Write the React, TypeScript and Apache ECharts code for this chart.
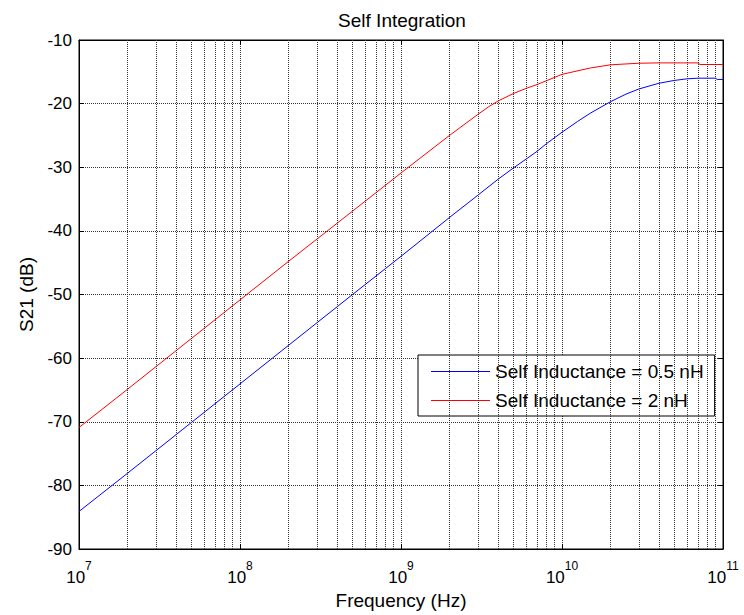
import React, { useEffect, useRef } from 'react';
import * as echarts from 'echarts';

// Self Inductance = 0.5 nH (blue)
const blueFreq = [1e7, 2e7, 5e7, 1e8, 2e8, 5e8, 1e9, 2e9, 3e9, 4e9, 5e9, 6e9, 7e9, 8e9, 1e10, 1.25e10, 1.5e10, 2e10, 2.5e10, 3e10, 4e10, 5e10, 6e10, 7e10, 9e10, 9.2e10, 1e11];
const blueS21 = [-84.1, -78.1, -70.1, -64.05, -58.0, -50.0, -44.0, -37.9, -34.4, -31.9, -30.1, -28.7, -27.5, -26.3, -24.5, -22.8, -21.5, -19.7, -18.5, -17.7, -16.8, -16.35, -16.1, -16.0, -16.0, -16.2, -16.2];

// Self Inductance = 2 nH (red)
const redFreq = [1e7, 2e7, 5e7, 1e8, 2e8, 5e8, 1e9, 2e9, 3e9, 3.5e9, 4e9, 5e9, 6e9, 7e9, 8e9, 1e10, 1.5e10, 2e10, 3e10, 4e10, 7e10, 7.2e10, 1e11];
const redS21 = [-70.9, -64.9, -56.9, -50.85, -44.8, -36.9, -30.9, -25.0, -21.7, -20.5, -19.6, -18.4, -17.6, -17.0, -16.4, -15.4, -14.4, -13.9, -13.65, -13.6, -13.6, -13.85, -13.85];

const seriesNames = ['Self Inductance = 0.5 nH', 'Self Inductance = 2 nH'];
const seriesColors = ['#0000ff', '#ff0000'];

// Axis ranges and minor grid
const xMin = 1e7;
const xMax = 1e11;
const yMin = -90;
const yMax = -10;
const yStep = 10;
const decadeStarts = [1e7, 1e8, 1e9, 1e10];
const minorMultipliers = [2, 3, 4, 5, 6, 7, 8, 9];

const font = "'Liberation Sans', Arial, Helvetica, sans-serif";
const gridLine = { color: '#333', type: [1, 1] as any, width: 1 };

export default function App() {
  const ref = useRef<HTMLDivElement>(null);

  useEffect(() => {
    if (!ref.current) return;
    const chart = echarts.init(ref.current, null, { renderer: 'svg' });

    const minorFreqs: number[] = [];
    decadeStarts.forEach((d) => minorMultipliers.forEach((m) => minorFreqs.push(d * m)));

    const option: any = {
      animation: false,
      backgroundColor: '#fff',
      title: {
        text: 'Self Integration',
        left: 397,
        top: 6,
        textAlign: 'center',
        textStyle: { fontFamily: font, fontSize: 19, fontWeight: 'normal', color: '#000' },
      },
      grid: {
        left: 79,
        right: 21,
        top: 40,
        bottom: 66,
        show: true,
        borderColor: '#000',
        borderWidth: 1,
        backgroundColor: 'transparent',
      },
      legend: {
        data: seriesNames,
        orient: 'vertical',
        left: 418,
        top: 355,
        icon: 'rect',
        itemWidth: 59,
        itemHeight: 1,
        itemGap: 10,
        itemTextGap: 7,
        padding: [7, 11, 6, 13],
        backgroundColor: '#fff',
        borderColor: '#000',
        borderWidth: 1,
        borderRadius: 0,
        selectedMode: false,
        textStyle: { fontFamily: font, fontSize: 19, color: '#000', lineHeight: 19 },
      },
      xAxis: [
        {
          type: 'log',
          logBase: 10,
          min: xMin,
          max: xMax,
          position: 'bottom',
          name: 'Frequency (Hz)',
          nameLocation: 'middle',
          nameGap: 40,
          nameTextStyle: { fontFamily: font, fontSize: 19, color: '#000' },
          axisLine: { show: true, lineStyle: { color: '#000', width: 1 } },
          axisTick: { show: true, inside: true, length: 5, lineStyle: { color: '#000' } },
          axisLabel: {
            margin: 11,
            formatter: (v: number) => `{b|10}{s|${Math.round(Math.log10(v))}}`,
            rich: {
              b: { fontFamily: font, fontSize: 17, color: '#000', verticalAlign: 'top', padding: [9, 0, 0, 0] },
              s: { fontFamily: font, fontSize: 12, color: '#000', verticalAlign: 'top' },
            },
          },
          splitLine: { show: true, lineStyle: gridLine },
        },
        {
          type: 'log',
          logBase: 10,
          min: xMin,
          max: xMax,
          position: 'top',
          axisLine: { show: true, lineStyle: { color: '#000', width: 1 } },
          axisTick: { show: true, inside: true, length: 5, lineStyle: { color: '#000' } },
          axisLabel: { show: false },
          splitLine: { show: false },
        },
      ],
      yAxis: [
        {
          type: 'value',
          min: yMin,
          max: yMax,
          interval: yStep,
          position: 'left',
          name: 'S21 (dB)',
          nameLocation: 'middle',
          nameGap: 43,
          nameTextStyle: { fontFamily: font, fontSize: 19, color: '#000' },
          axisLine: { show: true, lineStyle: { color: '#000', width: 1 } },
          axisTick: { show: true, inside: true, length: 5, lineStyle: { color: '#000' } },
          axisLabel: { margin: 7, fontFamily: font, fontSize: 17, color: '#000' },
          splitLine: { show: true, lineStyle: gridLine },
        },
        {
          type: 'value',
          min: yMin,
          max: yMax,
          interval: yStep,
          position: 'right',
          axisLine: { show: true, lineStyle: { color: '#000', width: 1 } },
          axisTick: { show: true, inside: true, length: 5, lineStyle: { color: '#000' } },
          axisLabel: { show: false },
          splitLine: { show: false },
        },
      ],
      series: [
        {
          type: 'line',
          data: [],
          z: 1,
          silent: true,
          xAxisIndex: 0,
          yAxisIndex: 0,
          markLine: {
            silent: true,
            symbol: ['none', 'none'],
            label: { show: false },
            lineStyle: gridLine,
            emphasis: { disabled: true },
            data: minorFreqs.map((f) => ({ xAxis: f })),
          },
        },
        {
          name: seriesNames[0],
          type: 'line',
          xAxisIndex: 0,
          yAxisIndex: 0,
          data: blueFreq.map((f, i) => [f, blueS21[i]]),
          symbol: 'none',
          z: 3,
          silent: true,
          lineStyle: { color: seriesColors[0], width: 1 },
          itemStyle: { color: seriesColors[0] },
        },
        {
          name: seriesNames[1],
          type: 'line',
          xAxisIndex: 0,
          yAxisIndex: 0,
          data: redFreq.map((f, i) => [f, redS21[i]]),
          symbol: 'none',
          z: 3,
          silent: true,
          lineStyle: { color: seriesColors[1], width: 1 },
          itemStyle: { color: seriesColors[1] },
        },
      ],
    };

    chart.setOption(option);
    return () => chart.dispose();
  }, []);

  return (
    <div
      ref={ref}
      style={{ position: 'absolute', left: 0, top: 0, width: 744, height: 615, background: '#fff' }}
    />
  );
}
